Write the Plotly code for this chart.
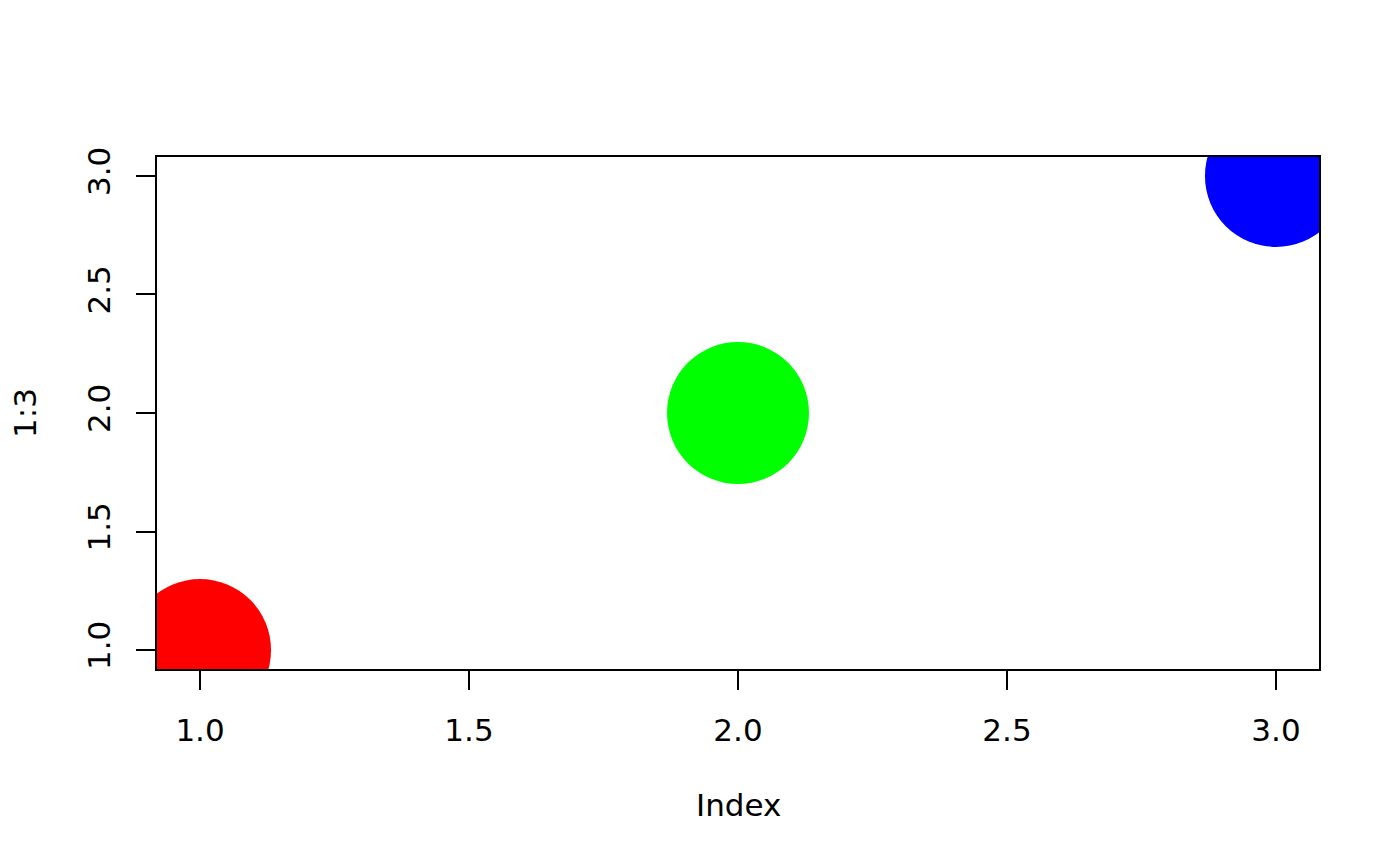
import plotly.graph_objects as go

x_vals = [1, 2, 3]
y_vals = [1, 2, 3]
colors = ["#FF0000", "#00FF00", "#0000FF"]
x_ticks = [1.0, 1.5, 2.0, 2.5, 3.0]
x_tick_labels = ["1.0", "1.5", "2.0", "2.5", "3.0"]
y_ticks = [1.0, 1.5, 2.0, 2.5, 3.0]
y_tick_labels = ["1.0", "1.5", "2.0", "2.5", "3.0"]

FONT = "DejaVu Sans"
FS = 31

fig = go.Figure()
fig.add_trace(go.Scatter(
    x=x_vals, y=y_vals, mode="markers",
    marker=dict(size=142, color=colors, line=dict(width=0)),
    cliponaxis=True, showlegend=False, hoverinfo="skip",
))

axis_common = dict(
    showgrid=False, zeroline=False, showline=True, mirror=True,
    linecolor="black", linewidth=1.5,
    ticks="outside", ticklen=19, tickwidth=1.5, tickcolor="black",
    tickfont=dict(family=FONT, size=FS, color="black"),
    tickmode="array",
)

fig.update_xaxes(range=[0.92, 3.08], tickvals=x_ticks, ticktext=x_tick_labels,
                 ticklabelstandoff=14, **axis_common)
fig.update_yaxes(range=[0.92, 3.08], tickvals=y_ticks, ticktext=y_tick_labels,
                 tickangle=-90, ticklabelstandoff=14, **axis_common)

fig.add_annotation(text="Index", xref="paper", yref="paper", x=0.5, y=0,
                   yshift=-136, showarrow=False, xanchor="center", yanchor="middle",
                   font=dict(family=FONT, size=FS, color="black"))
fig.add_annotation(text="1:3", xref="paper", yref="paper", x=0, y=0.5,
                   xshift=-132, showarrow=False, xanchor="center", yanchor="middle",
                   textangle=-90, font=dict(family=FONT, size=FS, color="black"))

fig.update_layout(
    width=1400, height=866,
    margin=dict(l=149, r=89, t=149, b=205),
    paper_bgcolor="white", plot_bgcolor="white",
)

fig.write_html("out.html")
